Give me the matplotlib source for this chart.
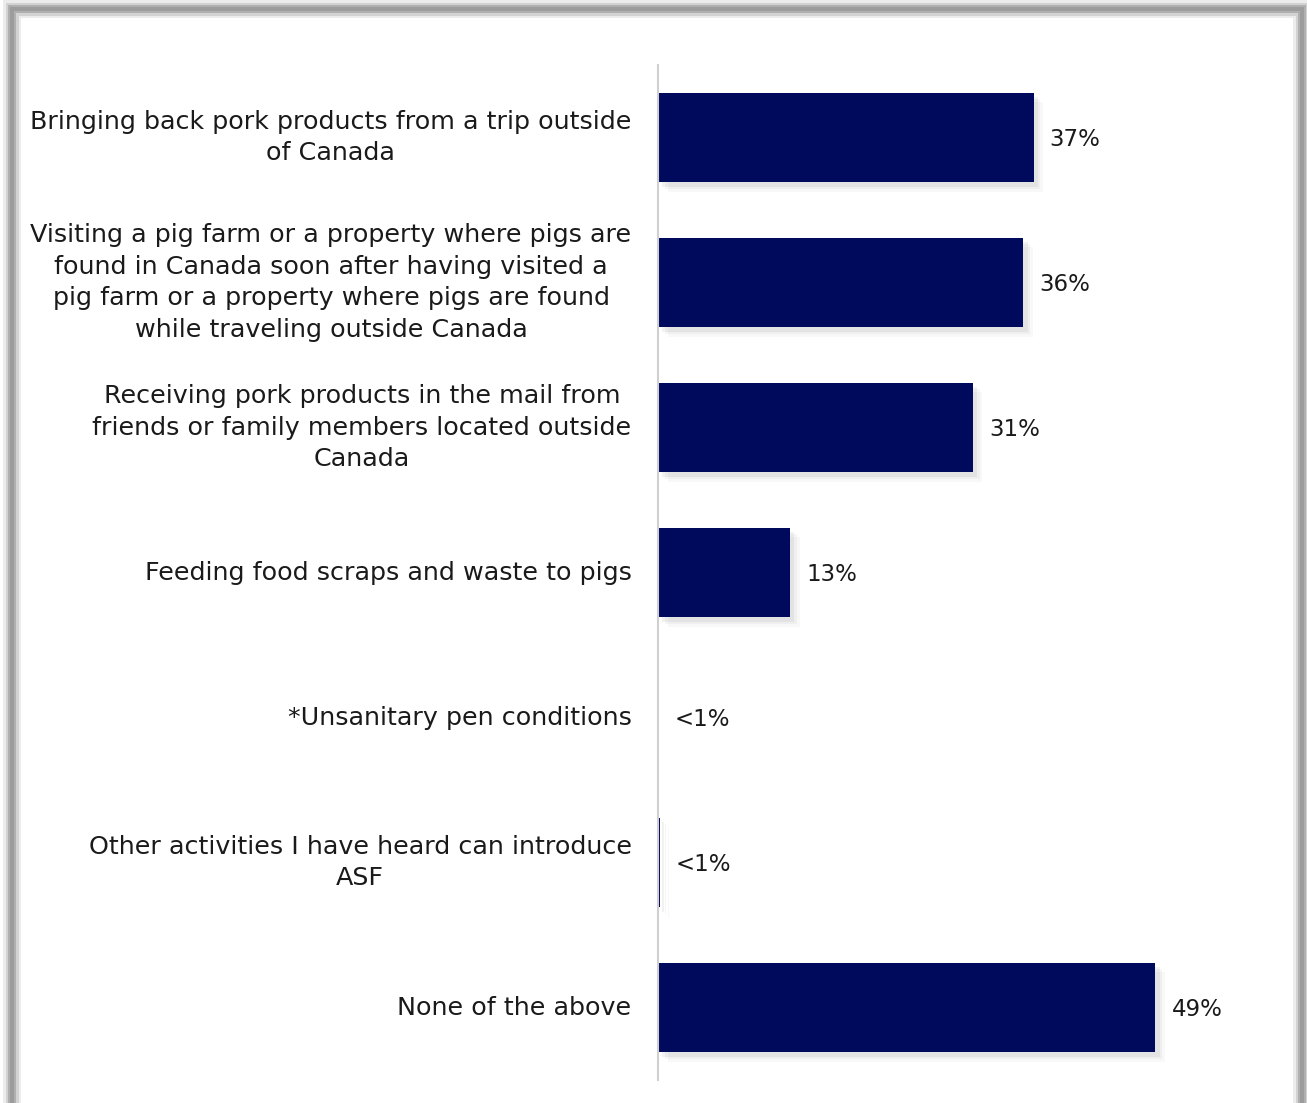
import matplotlib.pyplot as plt
import matplotlib.patheffects as pe
from matplotlib.lines import Line2D

categories = [
    "Bringing back pork products from a trip outside\nof Canada",
    "Visiting a pig farm or a property where pigs are\nfound in Canada soon after having visited a\npig farm or a property where pigs are found\nwhile traveling outside Canada",
    "Receiving pork products in the mail from\nfriends or family members located outside\nCanada",
    "Feeding food scraps and waste to pigs",
    "*Unsanitary pen conditions",
    "Other activities I have heard can introduce\nASF",
    "None of the above",
]
values = [37, 36, 31, 13, 0.03, 0.15, 49]
value_labels = ["37%", "36%", "31%", "13%", "<1%", "<1%", "49%"]

W, H = 1307, 1103
fig = plt.figure(figsize=(W / 100, H / 100), dpi=100)
ax = fig.add_axes([658 / W, 23 / H, 609 / W, 1015 / H])

navy = "#000a5c"
ypos = list(range(len(categories)))

# soft shadow under the bars
for k, a in [(7, 0.05), (5, 0.07), (3, 0.1)]:
    ax.barh(ypos, values, height=0.62, color="#000000", alpha=a, zorder=1,
            path_effects=[pe.withSimplePatchShadow(offset=(k, -k), shadow_rgbFace="gray", alpha=a)])
ax.barh(ypos, values, height=0.62, color=navy, zorder=2)

for y, v, lab in zip(ypos, values, value_labels):
    ax.text(v + 1.6, y + 0.015, lab, va="center", ha="left", fontsize=16.5, color="#1a1a1a")

ax.set_xlim(0, 60)
ax.set_ylim(len(categories) - 0.5, -0.5)
ax.set_yticks(ypos)
ax.set_yticklabels(categories, fontsize=18.3, color="#1a1a1a", multialignment="center",
                   linespacing=1.4, va="center")
ax.tick_params(axis="y", length=0, pad=19)
ax.set_xticks([])
for s in ["top", "right", "bottom"]:
    ax.spines[s].set_visible(False)
ax.spines["left"].set_color("#d0d0d0")
ax.spines["left"].set_linewidth(1.5)

# open-bottom grey frame around the picture
def px(x, y):
    return x / W, 1 - y / H

pts = [px(12, H + 5), px(12, 9), px(1302, 9), px(1302, H + 5)]
xs = [p[0] for p in pts]
ys = [p[1] for p in pts]
for lw, c in [(18, "#ececec"), (13, "#d2d2d2"), (8, "#b0b0b0"), (4, "#9c9c9c")]:
    fig.add_artist(Line2D(xs, ys, transform=fig.transFigure, color=c, lw=lw * 0.72,
                          solid_joinstyle="miter"))

fig.savefig("out.png", dpi=100)
